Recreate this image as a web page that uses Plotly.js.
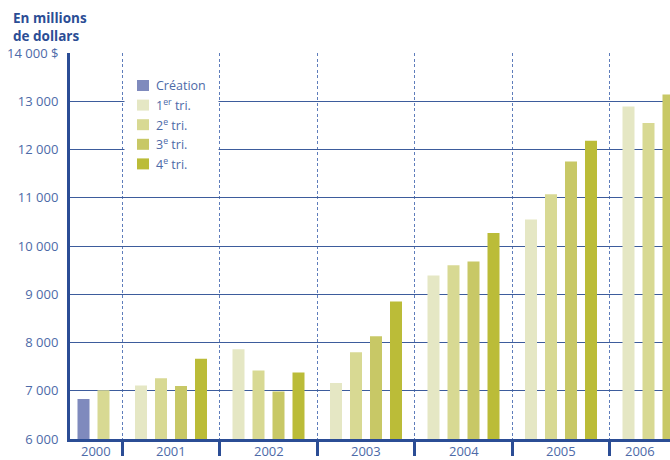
<!DOCTYPE html>
<html>
<head>
<meta charset="utf-8">
<script src="https://cdn.plot.ly/plotly-3.0.1.min.js"></script>
<style>html,body{margin:0;padding:0;background:#fff}#chart{width:670px;height:460px}</style>
</head>
<body>
<div id="chart"></div>
<script>
// ---- data ----
var years = [2000, 2001, 2002, 2003, 2004, 2005, 2006];
var yearLabels = ['2000', '2001', '2002', '2003', '2004', '2005', '2006'];
var creationName = 'Création';
var creationYear = 2000;
var creationQuarter = 3;
var creationValue = 6830;
var q1 = [null, 7110, 7860, 7160, 9390, 10550, 12890];
var q2 = [null, 7260, 7420, 7800, 9600, 11070, 12550];
var q3 = [null, 7100, 6985, 8130, 9680, 11750, 13140];
var q4 = [7010, 7665, 7380, 8850, 10270, 12180, null];
var seriesNames = ['1<sup>er</sup> tri.', '2<sup>e</sup> tri.', '3<sup>e</sup> tri.', '4<sup>e</sup> tri.'];
var yTickVals = [6000, 7000, 8000, 9000, 10000, 11000, 12000, 13000, 14000];
var yTickLabels = ['6 000', '7 000', '8 000', '9 000', '10 000', '11 000', '12 000', '13 000', '14 000 $'];

// ---- styling ----
var colCreation = '#7f8abd';
var colQ = ['#e5e7c4', '#d8d993', '#c8c866', '#bbbc38'];
var blue = '#2b4d95';
var textBlue = '#4d6aa8';
var FONT = 'Open Sans, sans-serif';
var slot = 20 / 97.5;       // spacing between bars within a year (in year units)
var barW = 12 / 97.5;
var xRange = [2001 - 101 / 97.5, 2001 + 499 / 97.5];
var PL = 70, PW = 600, PB = 439, PH = 386;   // plot area in px
function px2x(p) { return (p - PL) / PW; }
function px2y(p) { return (PB - p) / PH; }

function qx(year, q) { return year + (q - 2.5) * slot; }

var traces = [];
traces.push({
  type: 'bar', name: creationName, x: [qx(creationYear, creationQuarter)], y: [creationValue],
  width: barW, marker: {color: colCreation}, hoverinfo: 'y', showlegend: false
});
var qs = [q1, q2, q3, q4];
qs.forEach(function (arr, i) {
  var xs = [], ys = [], xsOld = [], ysOld = [];
  years.forEach(function (yr, j) {
    if (arr[j] == null) return;
    if (yr === 2000) { xsOld.push(qx(yr, i + 1)); ysOld.push(arr[j]); }
    else { xs.push(qx(yr, i + 1)); ys.push(arr[j]); }
  });
  traces.push({
    type: 'bar', name: seriesNames[i], x: xs, y: ys, width: barW,
    marker: {color: colQ[i]}, hoverinfo: 'y', showlegend: false
  });
  if (xsOld.length) {
    traces.push({
      type: 'bar', name: seriesNames[i], x: xsOld, y: ysOld, width: barW,
      marker: {color: colQ[1]}, showlegend: false, hoverinfo: 'y'
    });
  }
});

var boundaries = years.slice(0, -1).map(function (y) { return y + 0.5; });

var annotations = years.map(function (yr, j) {
  var lo = Math.max(yr - 0.5, xRange[0]);
  var hi = Math.min(yr + 0.5, xRange[1]);
  return {
    x: (lo + hi) / 2, xref: 'x', y: -0.032, yref: 'paper',
    text: yearLabels[j], showarrow: false, xanchor: 'center', yanchor: 'middle',
    font: {family: FONT, size: 13, color: textBlue}
  };
});
annotations.push({
  x: px2x(11), xref: 'paper', y: px2y(7), yref: 'paper',
  xanchor: 'left', yanchor: 'top', align: 'left', showarrow: false,
  text: '<b>En millions<br>de dollars</b>',
  font: {family: FONT, size: 13.5, color: blue}
});

// ---- legend (drawn as key: white box, swatches, labels) ----
var shapes = [{
  type: 'rect', xref: 'paper', yref: 'paper', layer: 'above',
  x0: px2x(124.5), x1: px2x(218.5), y0: px2y(72), y1: px2y(177),
  fillcolor: '#ffffff', line: {width: 0}
}];
var legNames = [creationName].concat(seriesNames);
var legCols = [colCreation].concat(colQ);
legNames.forEach(function (nm, i) {
  var cy = 85.5 + i * 19.6;
  shapes.push({
    type: 'rect', xref: 'paper', yref: 'paper', layer: 'above',
    x0: px2x(137), x1: px2x(149), y0: px2y(cy + 5.5), y1: px2y(cy - 5.5),
    fillcolor: legCols[i], line: {width: 0}
  });
  annotations.push({
    x: px2x(154), xref: 'paper', y: px2y(cy), yref: 'paper',
    xanchor: 'left', yanchor: 'middle', showarrow: false, text: nm,
    font: {family: FONT, size: 12.5, color: textBlue}
  });
});

var layout = {
  width: 670, height: 460,
  margin: {l: 70, r: 0, t: 53, b: 21, pad: 0},
  paper_bgcolor: '#fff', plot_bgcolor: '#fff',
  showlegend: false,
  barmode: 'overlay',
  xaxis: {
    type: 'linear', range: xRange, tickvals: boundaries, showticklabels: false,
    ticks: 'outside', ticklen: 14, tickwidth: 3, tickcolor: blue,
    showgrid: true, gridcolor: '#5f7dbb', gridwidth: 1.3, griddash: '3px,2.5px',
    showline: true, linecolor: blue, linewidth: 3, zeroline: false, fixedrange: true
  },
  yaxis: {
    range: [6000, 14000], tickvals: yTickVals, ticktext: yTickLabels,
    ticks: '', ticklabelstandoff: 6,
    tickfont: {family: FONT, size: 13, color: textBlue},
    showgrid: true, gridcolor: '#3d5c9c', gridwidth: 1,
    showline: true, linecolor: blue, linewidth: 3, zeroline: false, fixedrange: true
  },
  shapes: shapes,
  annotations: annotations
};

Plotly.newPlot('chart', traces, layout, {displayModeBar: false, staticPlot: true});
</script>
</body>
</html>
